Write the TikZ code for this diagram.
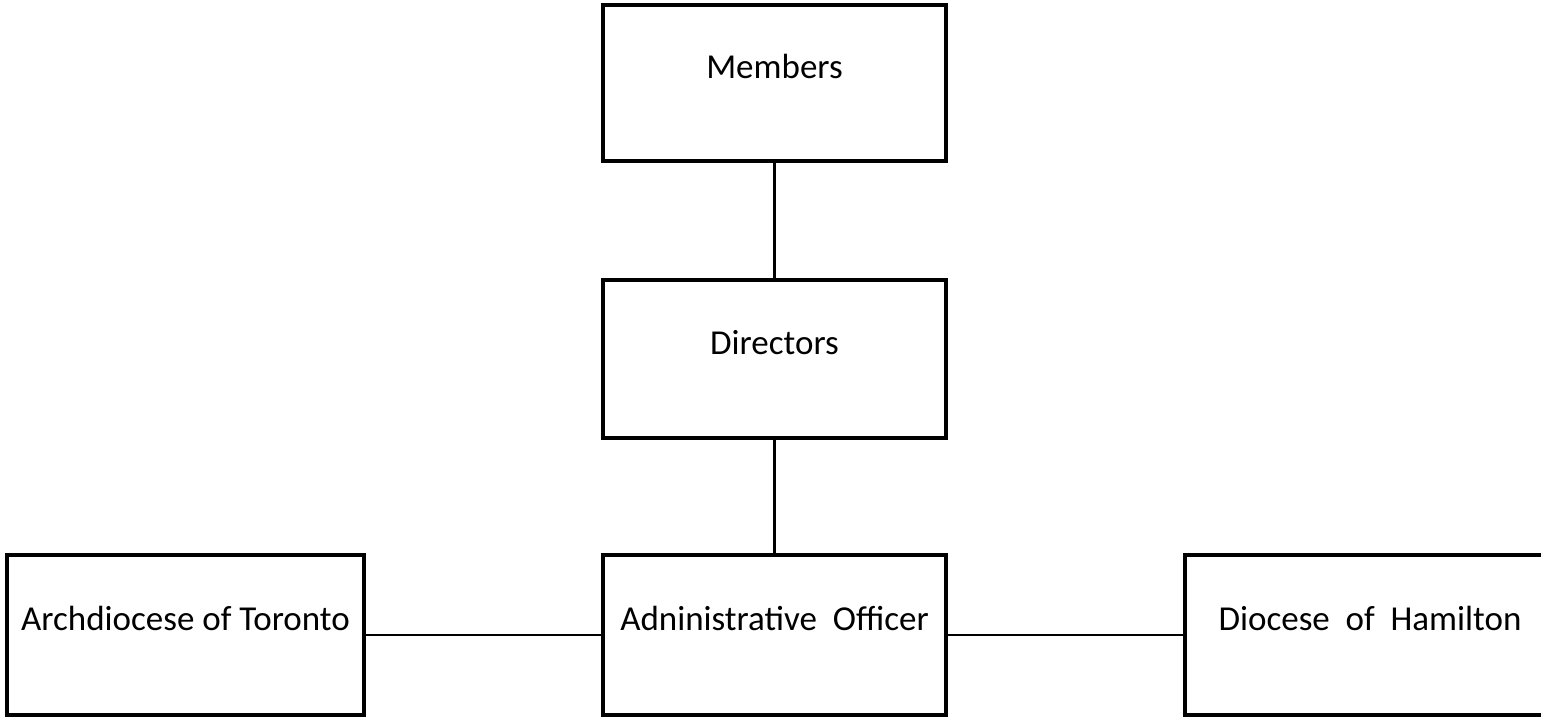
\documentclass[tikz,border=0pt]{standalone}
\usepackage{fontspec}
\setmainfont{Carlito}
\usetikzlibrary{calc}

\begin{document}
\begin{tikzpicture}[
    x=1pt,
    y=-1pt,
    orgbox/.style={
        rectangle,
        draw=black,
        line width=4.5pt,
        minimum height=158pt,
        inner sep=0pt,
        align=center,
        text height=24pt,
        text depth=34pt,
        font=\fontsize{35}{40}\selectfont
    },
    link/.style={
        draw=black,
        line width=2.2pt
    }
]
\useasboundingbox (0,0) rectangle (1541,720);

% Top: Members and Directors
\node[orgbox, minimum width=343pt, minimum height=156pt] (members) at (774.5,83) {Members};
\node[orgbox, minimum width=343pt] (directors) at (774.5,359) {Directors};

% Bottom row
\node[orgbox, minimum width=343pt, minimum height=160pt] (admin) at (774.5,635) {Adninistrative~ Officer};
\node[orgbox, minimum width=357pt, minimum height=160pt] (toronto) at (185.5,635) {Archdiocese of Toronto};
\node[orgbox, minimum width=370pt, minimum height=160pt] (hamilton) at (1370,635) {Diocese~ of~ Hamilton};

% Connections
\draw[link] (members) -- (directors);
\draw[link] (directors) -- (admin);
\draw[link] (toronto) -- (admin);
\draw[link] (admin) -- (hamilton);

\end{tikzpicture}
\end{document}
